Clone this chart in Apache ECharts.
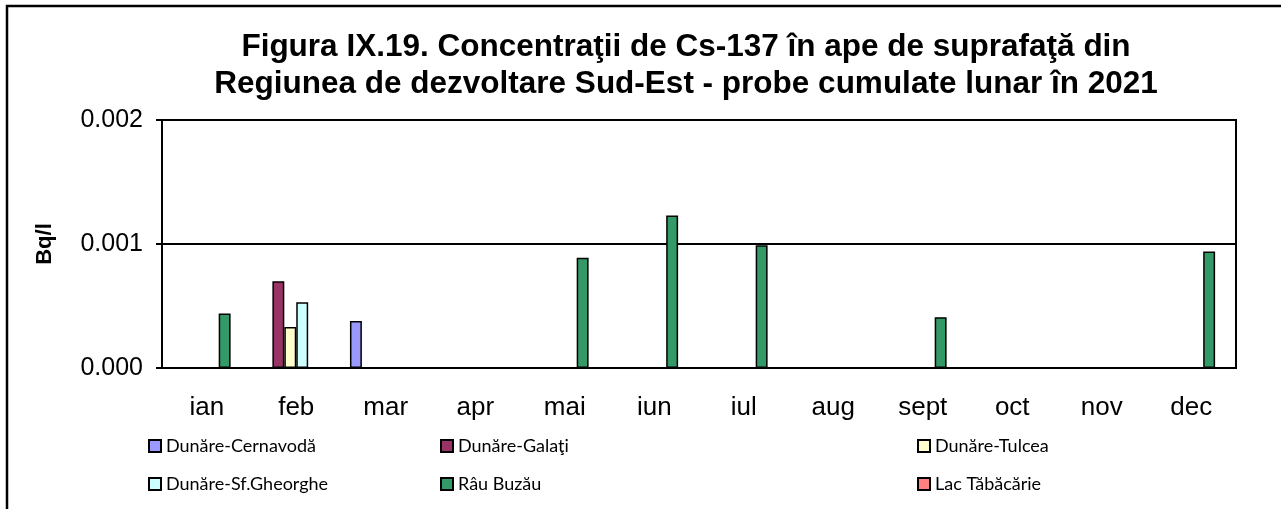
<!DOCTYPE html>
<html>
<head>
<meta charset="utf-8">
<script src="https://cdn.jsdelivr.net/npm/echarts@6/dist/echarts.min.js"></script>
<style>
  html, body { margin: 0; padding: 0; background: #fff; }
  #chart { width: 1281px; height: 509px; }
</style>
</head>
<body>
<div id="chart"></div>
<script>
// luni
const months = ['ian', 'feb', 'mar', 'apr', 'mai', 'iun', 'iul', 'aug', 'sept', 'oct', 'nov', 'dec']
const yTicks = [0, 0.001, 0.002]

// valori Bq/l (null = fara bara)
const cernavoda = [null, null, 0.00038, null, null, null, null, null, null, null, null, null]
const galati = [null, 0.0007, null, null, null, null, null, null, null, null, null, null]
const tulcea = [null, 0.00033, null, null, null, null, null, null, null, null, null, null]
const sfGheorghe = [null, 0.00053, null, null, null, null, null, null, null, null, null, null]
const buzau = [0.00044, null, null, null, 0.00089, 0.00123, 0.00099, null, 0.00041, null, null, 0.00094]
const tabacarie = [null, null, null, null, null, null, null, null, null, null, null, null]

const seriesNames = ['Dunăre-Cernavodă', 'Dunăre-Galaţi', 'Dunăre-Tulcea', 'Dunăre-Sf.Gheorghe', 'Râu Buzău', 'Lac Tăbăcărie']
const seriesData = [cernavoda, galati, tulcea, sfGheorghe, buzau, tabacarie]
const myColor = ['#9999FF', '#993366', '#FFFFCC', '#CCFFFF', '#339966', '#FF8080']

const myChart = echarts.init(document.getElementById('chart'))

const legendText = {
  fontFamily: 'Lato',
  fontSize: 18,
  color: '#000',
}
const legendBase = {
  orient: 'vertical',
  top: 437,
  padding: 0,
  icon: 'rect',
  itemWidth: 12,
  itemHeight: 12,
  itemGap: 20,
  textStyle: legendText,
  selectedMode: false,
}

const option = {
  animation: false,
  title: {
    text: 'Figura IX.19. Concentraţii de Cs-137 în ape de suprafaţă din\nRegiunea de dezvoltare Sud-Est - probe cumulate lunar în 2021',
    left: 681,
    top: 24,
    textAlign: 'center',
    textStyle: {
      fontFamily: 'Liberation Sans',
      fontWeight: 'bold',
      fontSize: 31.5,
      lineHeight: 37,
      color: '#000',
    },
  },
  graphic: [
    {
      type: 'rect',
      shape: { x: 7, y: 6, width: 1400, height: 700 },
      style: { fill: 'none', stroke: '#000', lineWidth: 2.5 },
      silent: true,
    },
  ],
  legend: [
    Object.assign({}, legendBase, { left: 148, data: [seriesNames[0], seriesNames[3]] }),
    Object.assign({}, legendBase, { left: 440, data: [seriesNames[1], seriesNames[4]] }),
    Object.assign({}, legendBase, { left: 917, data: [seriesNames[2], seriesNames[5]] }),
  ],
  grid: {
    left: 162,
    right: 45,
    top: 120,
    bottom: 141,
    show: true,
    borderColor: '#000',
    borderWidth: 2,
    containLabel: false,
  },
  xAxis: {
    type: 'category',
    data: months,
    axisLine: { lineStyle: { color: '#000', width: 2 } },
    axisTick: { length: 7, lineStyle: { color: '#000', width: 2 } },
    axisLabel: {
      fontFamily: 'Liberation Sans',
      fontSize: 26,
      color: '#000',
      margin: 27,
    },
  },
  yAxis: {
    type: 'value',
    min: yTicks[0],
    max: yTicks[yTicks.length - 1],
    interval: 0.001,
    name: 'Bq/l',
    nameLocation: 'middle',
    nameRotate: 90,
    nameGap: 106,
    nameTextStyle: {
      fontFamily: 'Liberation Sans',
      fontWeight: 'bold',
      fontSize: 22,
      color: '#000',
    },
    axisLine: { show: true, lineStyle: { color: '#000', width: 2 } },
    axisTick: { show: true, length: 6, lineStyle: { color: '#000', width: 2 } },
    axisLabel: {
      fontFamily: 'Liberation Sans',
      fontSize: 25,
      color: '#000',
      margin: 19,
      formatter: (v) => v.toFixed(3),
    },
    splitLine: { show: true, lineStyle: { color: '#000', width: 2 } },
  },
  series: seriesNames.map((name, i) => ({
    name: name,
    type: 'bar',
    data: seriesData[i],
    barGap: '0%',
    barCategoryGap: '20%',
    itemStyle: {
      color: myColor[i],
      borderColor: '#000',
      borderWidth: 1.5,
    },
  })),
}

myChart.setOption(option)
</script>
</body>
</html>
